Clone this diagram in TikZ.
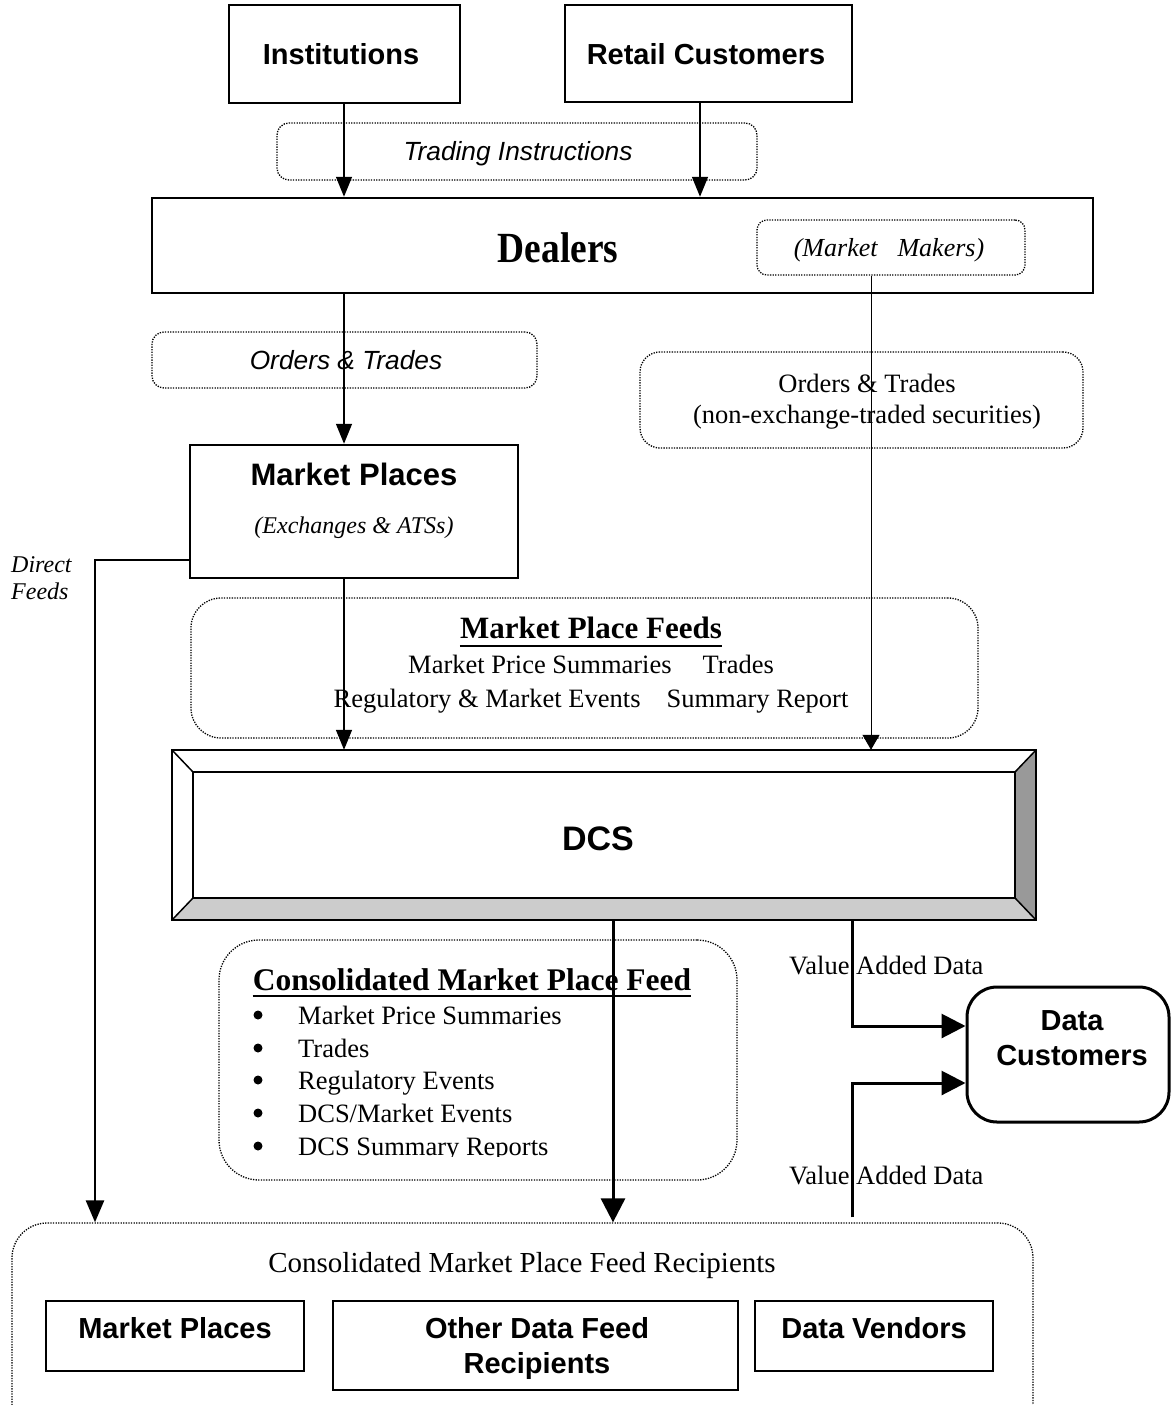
\documentclass[tikz,border=0pt]{standalone}
\usepackage{fontspec}
\usepackage{graphicx}
\setmainfont{Liberation Serif}
\setsansfont{Liberation Sans}
\usetikzlibrary{arrows.meta,calc}
\newcommand\fSB{\sffamily\bfseries\fontsize{29}{34}\selectfont}
\newcommand\fSI{\sffamily\itshape\fontsize{26.3}{30}\selectfont}
\newcommand\fRM{\rmfamily\fontsize{26.5}{31}\selectfont}
\newcommand\fRI{\rmfamily\itshape\fontsize{24}{28}\selectfont}
\newcommand\fRB{\rmfamily\bfseries\fontsize{31.5}{36}\selectfont}
\tikzset{
  box/.style={draw, line width=2.5pt, inner sep=0pt},
  dotbox/.style={draw, line width=1.3pt, dash pattern=on 1.3pt off 1.3pt, rounded corners=#1, inner sep=0pt},
  txt/.style={inner sep=0pt, anchor=base},
  ltxt/.style={inner sep=0pt, anchor=base west},
  bul/.style={fill=black, circle, inner sep=0pt, minimum size=9pt},
  arr/.style={line width=1.5pt, -{Triangle[length=20pt,width=16pt]}},
  midarr/.style={line width=2.5pt, -{Triangle[length=22pt,width=18pt]}},
  thickarr/.style={line width=3pt, -{Triangle[length=24pt,width=24pt]}},
  thinarr/.style={line width=1pt, -{Triangle[length=15pt,width=17pt]}},
}
\begin{document}
\begin{tikzpicture}[x=1pt,y=-1pt]
\useasboundingbox (0,0) rectangle (1172,1405);
\clip (0,0) rectangle (1172,1405);
\fill[white] (0,0) rectangle (1172,1405);

% column coordinates
\coordinate (xA) at (344,0);
\coordinate (xB) at (700,0);
\coordinate (xC) at (871,0);
\coordinate (xD) at (95,0);
\coordinate (xE) at (613,0);
\coordinate (xF) at (852,0);
\coordinate (yDF) at (0,560);
\coordinate (yV1) at (0,1026);
\coordinate (yV2) at (0,1083);

% boxes
\node[box, minimum width=231pt, minimum height=98pt] (inst) at (344.5,54) {};
\node[box, minimum width=287pt, minimum height=97pt] (retail) at (708.5,53.5) {};
\node[dotbox=12pt, minimum width=480pt, minimum height=57pt] (trading) at (517,151.5) {};
\node[box, minimum width=941pt, minimum height=95pt] (dealers) at (622.5,245.5) {};
\node[dotbox=10pt, minimum width=268pt, minimum height=55pt] (mm) at (891,247.5) {};
\node[dotbox=12pt, minimum width=385pt, minimum height=56pt] (otl) at (344.5,360) {};
\node[dotbox=20pt, minimum width=443pt, minimum height=96pt] (otr) at (861.5,400) {};
\node[box, minimum width=328pt, minimum height=133pt] (mp) at (354,511.5) {};
\node[dotbox=30pt, minimum width=787pt, minimum height=140pt] (mpf) at (584.5,668) {};
\node[inner sep=0pt, minimum width=864pt, minimum height=170pt] (dcs) at (604,835) {};
\node[dotbox=40pt, minimum width=518pt, minimum height=240pt] (cmpf) at (478,1060) {};
\node[draw, line width=3pt, rounded corners=30pt, inner sep=0pt, minimum width=202pt, minimum height=135pt] (dc) at (1068,1054.5) {};
\node[dotbox=35pt, minimum width=1021pt, minimum height=217pt] (rec) at (522.5,1331.5) {};
\node[box, minimum width=258pt, minimum height=70pt] (mps) at (175,1336) {};
\node[box, minimum width=405pt, minimum height=89pt] (odf) at (535.5,1345.5) {};
\node[box, minimum width=238pt, minimum height=70pt] (dv) at (874,1336) {};

% DCS bevel
\coordinate (iNW) at ($(dcs.north west)+(21,22)$);
\coordinate (iNE) at ($(dcs.north east)+(-21,22)$);
\coordinate (iSW) at ($(dcs.south west)+(21,-22)$);
\coordinate (iSE) at ($(dcs.south east)+(-21,-22)$);
\fill[white] (dcs.north west) rectangle (dcs.south east);
\fill[fill={rgb,255:red,204;green,204;blue,204}] (dcs.south west) -- (dcs.south east) -- (iSE) -- (iSW) -- cycle;
\fill[fill={rgb,255:red,153;green,153;blue,153}] (dcs.north east) -- (dcs.south east) -- (iSE) -- (iNE) -- cycle;
\draw[line width=1.5pt] (dcs.north west) -- (iNW) (dcs.north east) -- (iNE) (dcs.south west) -- (iSW) (dcs.south east) -- (iSE);
\draw[line width=2.5pt] (iNW) rectangle (iSE);
\draw[line width=2.5pt] (dcs.north west) rectangle (dcs.south east);

% texts
\node[txt] (tinst) at (341,65) {\fSB Institutions};
\node[txt] (tretail) at (706,64) {\fSB Retail Customers};
\node[txt] (ttrad) at (518,160) {\fSI Trading Instructions};
\node[txt] (tdeal) at (558,262) {\scalebox{0.87}[1]{\rmfamily\bfseries\fontsize{43}{48}\selectfont Dealers}};
\node[txt] (tmm) at (889,256) {\rmfamily\itshape\fontsize{26}{30}\selectfont (Market\hspace{20pt}Makers)};
\node[txt] (totl) at (346,369) {\fSI Orders \& Trades};
\node[txt] (totr1) at (867,392) {\fRM Orders \& Trades};
\node[txt] (totr2) at (867,423) {\fRM (non-exchange-traded securities)};
\node[txt] (tmp1) at (354,485) {\sffamily\bfseries\fontsize{31}{36}\selectfont Market Places};
\node[txt] (tmp2) at (354,533) {\fRI (Exchanges \& ATSs)};
\node[ltxt] (tdf1) at (11,572) {\fRI Direct};
\node[ltxt] (tdf2) at (11,599) {\fRI Feeds};
\node[txt] (tmpf) at (591,638) {\rmfamily\bfseries\fontsize{31}{36}\selectfont Market Place Feeds};
\draw[line width=2.8pt] ([yshift=-8pt]tmpf.base west) -- ([yshift=-8pt]tmpf.base east);
\node[txt] (tmpf1) at (591,673) {\fRM Market Price Summaries\hspace{31pt}Trades};
\node[txt] (tmpf2) at (591,707) {\fRM Regulatory \& Market Events\hspace{26pt}Summary Report};
\node[txt] (tdcs) at (598,850) {\sffamily\bfseries\fontsize{34}{40}\selectfont DCS};
\node[txt] (tcmpf) at (472,990) {\fRB Consolidated Market Place Feed};
\draw[line width=2.8pt] ([yshift=-6pt]tcmpf.base west) -- ([yshift=-6pt]tcmpf.base east);
\node[bul] (b1) at (258,1015) {};
\node[bul] (b2) at (258,1048) {};
\node[bul] (b3) at (258,1080) {};
\node[bul] (b4) at (258,1113) {};
\node[bul] (b5) at (258,1146) {};
\node[ltxt] (i1) at (298,1024) {\fRM Market Price Summaries};
\node[ltxt] (i2) at (298,1057) {\fRM Trades};
\node[ltxt] (i3) at (298,1089) {\fRM Regulatory Events};
\node[ltxt] (i4) at (298,1122) {\fRM DCS/Market Events};
\begin{scope}
\clip (200,1120) rectangle (700,1156);
\node[ltxt] (i5) at (298,1155) {\fRM DCS Summary Reports};
\end{scope}
\node[ltxt] (tva1) at (789,974) {\fRM Value Added Data};
\node[ltxt] (tva2) at (789,1184) {\fRM Value Added Data};
\node[txt] (tdc1) at (1072,1030) {\fSB Data};
\node[txt] (tdc2) at (1072,1065) {\fSB Customers};
\node[txt] (trec) at (522,1272) {\rmfamily\fontsize{29}{34}\selectfont Consolidated Market Place Feed Recipients};
\node[txt] (tmps) at (175,1338) {\fSB Market Places};
\node[txt] (todf1) at (537,1338) {\fSB Other Data Feed};
\node[txt] (todf2) at (537,1373) {\fSB Recipients};
\node[txt] (tdv) at (874,1338) {\fSB Data Vendors};

% connectors
\draw[arr] (inst.south -| xA) -- (dealers.north -| xA);
\draw[arr] (retail.south -| xB) -- (dealers.north -| xB);
\draw[arr] (dealers.south -| xA) -- (mp.north -| xA);
\draw[thinarr] (mm.south -| xC) -- (dcs.north -| xC);
\draw[arr] (mp.south -| xA) -- (dcs.north -| xA);
\draw[midarr] (mp.west |- yDF) -| (rec.north -| xD);
\draw[thickarr] (dcs.south -| xE) -- (rec.north -| xE);
\draw[thickarr] (dcs.south -| xF) |- (dc.west |- yV1);
\draw[thickarr] ([yshift=5pt]rec.north -| xF) |- (dc.west |- yV2);
\end{tikzpicture}
\end{document}
